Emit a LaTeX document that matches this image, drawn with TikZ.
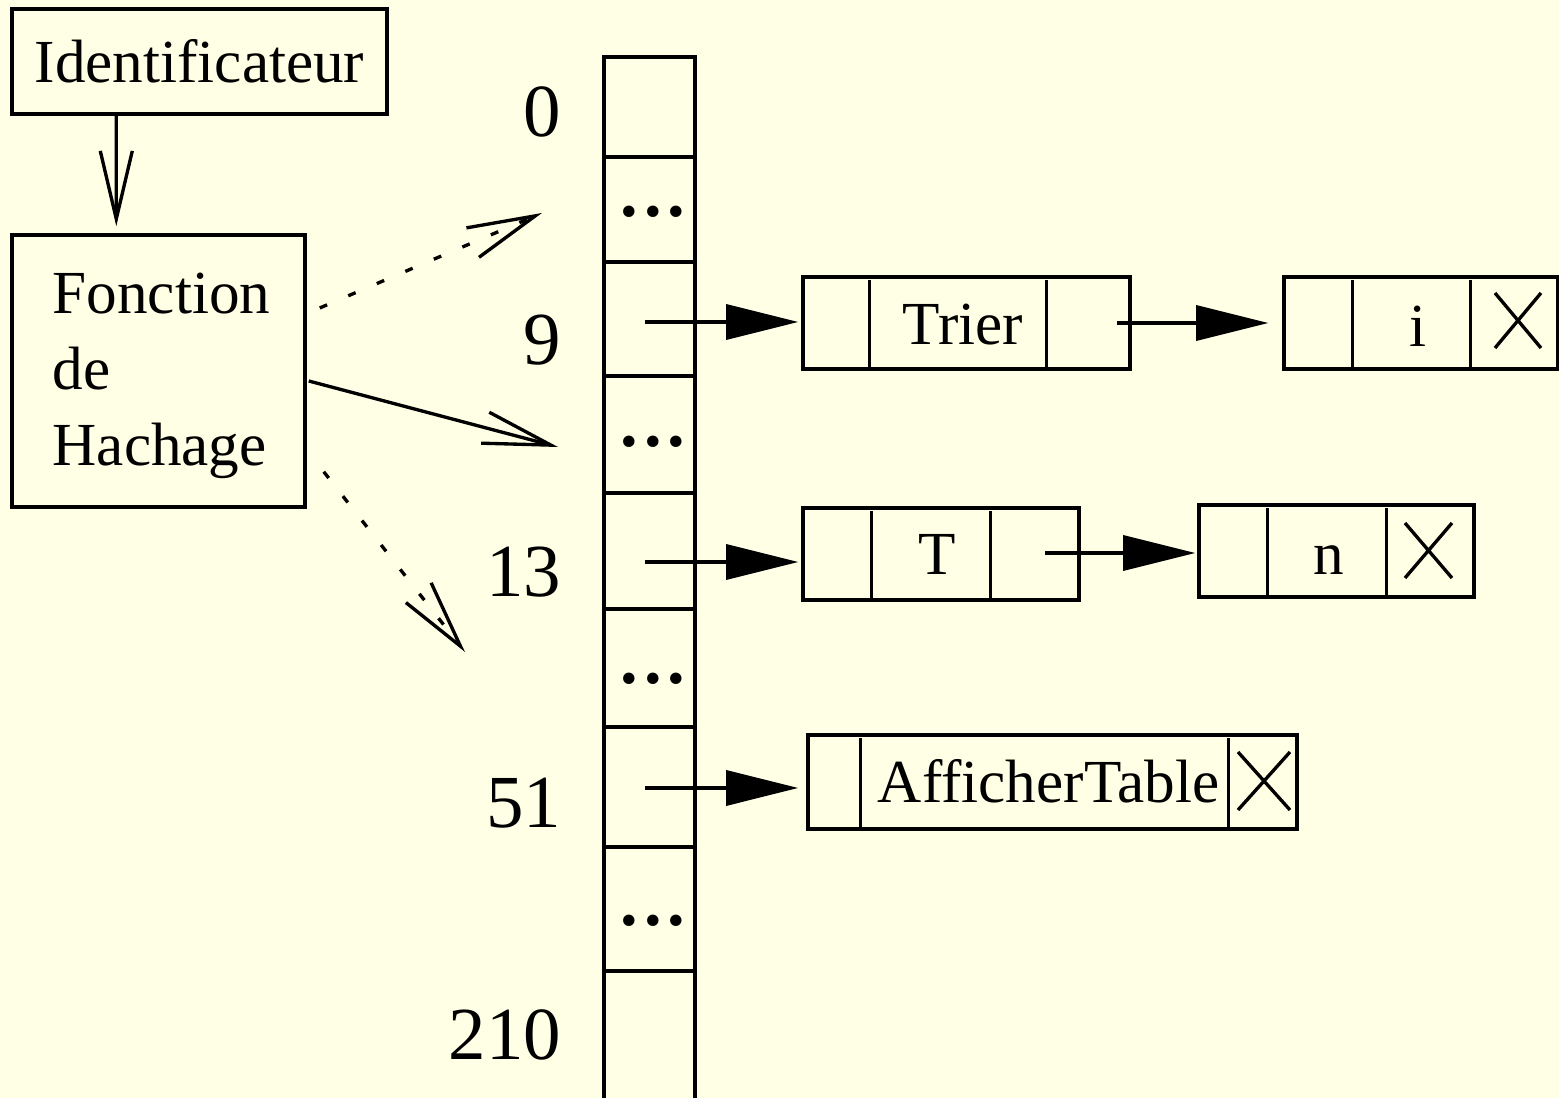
\documentclass[tikz,border=0pt]{standalone}
\usepackage{fontspec}
\setmainfont{Liberation Serif}
\usetikzlibrary{arrows.meta}
\definecolor{paper}{RGB}{255,255,229}
\begin{document}
\begin{tikzpicture}[x=0.01cm, y=-0.01cm, line width=0.95pt,
  txt/.style={inner sep=0pt, font=\fontsize{17.4pt}{21.6pt}\selectfont},
  num/.style={inner sep=0pt, anchor=base east, font=\fontsize{21.3pt}{24pt}\selectfont},
  box/.style={draw, inner sep=0pt, minimum height=0.92cm},
  cell/.style={draw, inner sep=0pt, minimum width=0.91cm},
  barb/.style={-{Straight Barb[length=0.68cm, width=0.32cm]}},
  ptr/.style={-{Triangle[length=0.72cm, width=0.35cm]}},
  dotline/.style={dash pattern=on 0.08cm off 0.23cm},
  tdots/.style={inner sep=0pt, font=\fontsize{20pt}{24pt}\selectfont\bfseries},
]
\fill[paper] (0,0) rectangle (1559,1098);
\useasboundingbox (0,0) rectangle (1559,1098);

% hashing stage
\node[box, txt, minimum width=3.75cm, minimum height=1.05cm] (ident) at (199.5,61.5) {Identificateur};
\node[box, minimum width=2.93cm, minimum height=2.72cm] (hash) at (158.5,371) {};
\node[txt, align=left, anchor=north west] (hashtxt) at (51,271) {Fonction\\de\\Hachage};
\draw[barb, shorten >=0.07cm] ([xshift=1.06cm]ident.south west) -- ([xshift=1.06cm]hash.north west);

% the table
\node[cell, minimum height=1.00cm] (c0) at (649.5,107) {};
\node[cell, minimum height=1.05cm] (c1) at (649.5,209.5) {};
\node[cell, minimum height=1.14cm] (c2) at (649.5,319) {};
\node[cell, minimum height=1.17cm] (c3) at (649.5,434.5) {};
\node[cell, minimum height=1.16cm] (c4) at (649.5,551) {};
\node[cell, minimum height=1.18cm] (c5) at (649.5,668) {};
\node[cell, minimum height=1.20cm] (c6) at (649.5,787) {};
\node[cell, minimum height=1.24cm] (c7) at (649.5,909) {};
\node[cell, minimum height=1.40cm] (c8) at (649.5,1041) {};

\newcommand{\tabdots}{.\kern0.085em.\kern0.085em.}
\node[tdots] (d1) at (653,212) {\tabdots};
\node[tdots] (d3) at (653,442) {\tabdots};
\node[tdots] (d5) at (653,679) {\tabdots};
\node[tdots] (d7) at (653,921) {\tabdots};

\node[num] (l0) at (563,137) {0};
\node[num] (l9) at (563,365) {9};
\node[num] (l13) at (563,597) {13};
\node[num] (l51) at (563,828) {51};
\node[num] (l210) at (563,1060) {210};

% bucket 9: Trier -> i
\node[box, minimum width=3.27cm] (trier) at (966.5,323) {};
\draw ([shift={(68,5)}]trier.north west) -- ([shift={(68,0)}]trier.south west);
\draw ([shift={(245,5)}]trier.north west) -- ([shift={(245,0)}]trier.south west);
\node[txt, anchor=base] (trierlbl) at (963,345) {Trier};

\node[box, minimum width=2.74cm] (nodei) at (1421,323) {};
\draw ([shift={(70,5)}]nodei.north west) -- ([shift={(70,0)}]nodei.south west);
\draw ([shift={(188,5)}]nodei.north west) -- ([shift={(188,0)}]nodei.south west);
\node[txt, anchor=base] (ilbl) at (1418,347) {i};
\draw (1495,293) -- (1541,348) (1541,293) -- (1495,348);

% bucket 13: T -> n
\node[box, minimum width=2.76cm] (nodeT) at (941,554) {};
\draw ([shift={(70,5)}]nodeT.north west) -- ([shift={(70,0)}]nodeT.south west);
\draw ([shift={(189,5)}]nodeT.north west) -- ([shift={(189,0)}]nodeT.south west);
\node[txt, anchor=base] (Tlbl) at (937,575) {T};

\node[box, minimum width=2.75cm] (noden) at (1336.5,551) {};
\draw ([shift={(70,5)}]noden.north west) -- ([shift={(70,0)}]noden.south west);
\draw ([shift={(189,5)}]noden.north west) -- ([shift={(189,0)}]noden.south west);
\node[txt, anchor=base] (nlbl) at (1329,575) {n};
\draw (1405,523) -- (1452,578) (1452,523) -- (1405,578);

% bucket 51: AfficherTable
\node[box, minimum width=4.89cm, minimum height=0.94cm] (aff) at (1052.5,782) {};
\draw ([shift={(54,5)}]aff.north west) -- ([shift={(54,-4)}]aff.south west);
\draw ([shift={(422,5)}]aff.north west) -- ([shift={(422,0)}]aff.south west);
\node[txt, anchor=base] (afflbl) at (1048.5,803) {AfficherTable};
\draw (1238,752) -- (1290,810) (1290,752) -- (1238,810);

% pointers
\coordinate (p9) at (645,322);
\coordinate (p13) at (645,562);
\coordinate (p51) at (645,788);
\draw[ptr, shorten >=0.03cm] (p9) -- (p9 -| trier.west);
\draw[ptr, shorten >=0.14cm] ([xshift=-0.15cm]trier.east) -- (nodei.west);
\draw[ptr, shorten >=0.03cm] (p13) -- (p13 -| nodeT.west);
\coordinate (tn) at ([shift={(-36,-1)}]nodeT.east);
\draw[ptr, shorten >=0.02cm] (tn) -- (tn -| noden.west);
\draw[ptr, shorten >=0.08cm] (p51) -- (p51 -| aff.west);

% hash outputs
\coordinate (tA) at (542,213);
\coordinate (tB) at (558,447);
\coordinate (tC) at (465,652);
\draw[dotline, barb] ([shift={(13,-63)}]hash.east) -- (tA);
\draw[barb] ([shift={(2,10)}]hash.east) -- (tB);
\draw[dotline, barb] ([shift={(17,-37)}]hash.south east) -- (tC);
\end{tikzpicture}
\end{document}
